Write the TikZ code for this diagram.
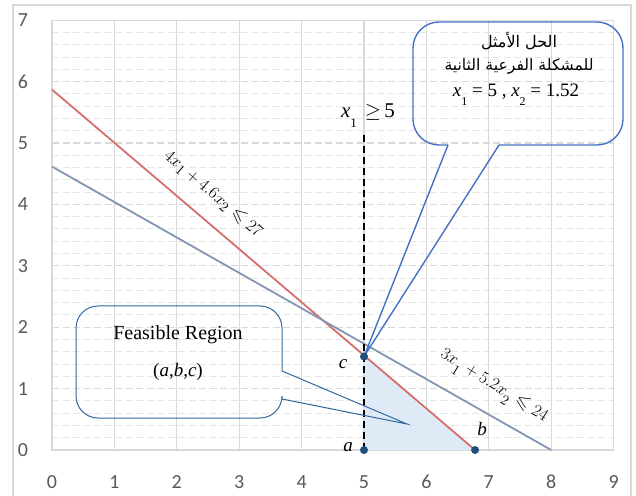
\documentclass[tikz,border=0pt]{standalone}
\usepackage{amssymb}
\usepackage{fontspec}
\setmainfont{Liberation Serif}
\newfontfamily\tickfont{Carlito}
\newfontfamily\arabicfont[Script=Arabic]{DejaVu Sans}
\TeXXeTstate=1
\definecolor{gridmajor}{RGB}{217,217,217}
\definecolor{gridminor}{RGB}{230,230,230}
\definecolor{framegray}{RGB}{217,217,217}
\definecolor{ticktext}{RGB}{89,89,89}
\definecolor{redline}{RGB}{214,110,110}
\definecolor{grayline}{RGB}{132,151,176}
\definecolor{feasfill}{RGB}{222,235,247}
\definecolor{dotblue}{RGB}{31,78,121}
\definecolor{callblue}{RGB}{68,114,196}
\definecolor{calldark}{RGB}{52,105,160}
\tikzset{
  minorgrid/.style={gridminor, line width=1pt, dash pattern=on 7pt off 3.5pt},
  majorgrid/.style={gridmajor, line width=1.2pt, dash pattern=on 7pt off 3.5pt},
  vgrid/.style={gridmajor, line width=1.3pt},
  ticklab/.style={font=\tickfont\fontsize{20}{20}\selectfont, text=ticktext, inner sep=0pt},
  ptlab/.style={font=\fontsize{19}{19}\selectfont\itshape, inner sep=0pt},
  ptdot/.style={circle, fill=dotblue, inner sep=0pt, minimum size=8pt},
  eqlab/.style={font=\fontsize{19}{19}\selectfont, inner sep=0pt},
}
\begin{document}
\begin{tikzpicture}[x=62.4pt,y=61.4pt]
\useasboundingbox (-52pt,-45pt) rectangle (584pt,450pt);
\fill[white] (-52pt,-45pt) rectangle (584pt,450pt);
% outer chart frame
\draw[framegray, line width=1.2pt] (-39pt,-60pt) -- (-39pt,445pt) -- (579pt,445pt) -- (579pt,-60pt);
% grid
\foreach \k in {1,...,35}{\draw[minorgrid] (0,\k*0.2) -- (9,\k*0.2);}
\foreach \k in {1,...,6}{\draw[majorgrid] (0,\k) -- (9,\k);}
\foreach \k in {1,...,8}{\draw[vgrid] (\k,0) -- (\k,7);}
\draw[vgrid] (0,0) rectangle (9,7);
% tick labels
\foreach \k in {0,...,9}{\node[ticklab] (xt\k) at ([yshift=-32pt]\k,0) {\k};}
\foreach \k in {0,...,7}{\node[ticklab] (yt\k) at ([xshift=-29pt]0,\k) {\k};}
% key points
\coordinate (a) at (5,0);
\coordinate (b) at (6.78,0);
\coordinate (c) at (5,1.5217);
\coordinate (dtop) at (5,5.13);
% feasible region
\fill[feasfill] (a) -- (b) -- (c) -- cycle;
% constraint lines
\coordinate (r0) at (0,5.8696);
\coordinate (g0) at (0,4.6154);
\coordinate (g1) at (8,0);
\draw[redline, line width=1.8pt] (r0) -- (b);
\draw[grayline, line width=1.8pt] (g0) -- (g1);
% dashed x1>=5
\draw[black, line width=2pt, dash pattern=on 7pt off 4pt] (a) -- (dtop);
% callout 1 (top right)
\draw[callblue, line width=1.4pt, rounded corners=26pt]
  (396pt,305pt) -- (361pt,305pt) -- (361pt,428pt) -- (571pt,428pt) -- (571pt,305pt) -- (447pt,305pt);
\draw[callblue, line width=1.4pt] (447pt,305pt) -- (c) -- (396pt,305pt);
% callout 2 (feasible region)
\draw[calldark, line width=1pt, rounded corners=22pt]
  (230pt,79pt) -- (230pt,144pt) -- (24pt,144pt) -- (24pt,32pt) -- (230pt,32pt) -- (230pt,51pt);
\draw[calldark, line width=1pt] (230pt,79pt) -- (355pt,26pt) -- (230pt,51pt);
% dots
\node[ptdot] (da) at (a) {};
\node[ptdot] (db) at (b) {};
\node[ptdot] (dc) at (c) {};
% point labels
\node[ptlab] (la) at (296pt,3pt) {a};
\node[ptlab] (lb) at (430pt,21pt) {b};
\node[ptlab] (lc) at (291pt,86pt) {c};
% x1 >= 5 label
\node[font=\fontsize{21}{21}\selectfont, inner sep=0pt] (lx) at (316pt,334pt)
  {{\itshape x}\raisebox{-10pt}{\fontsize{13}{13}\selectfont 1}\hspace{8pt}$\geq$\,5};
% constraint labels
\node[eqlab, rotate=-40.5] (l1) at (161pt,256pt) {$4x_1 + 4.6x_2 \leqslant 27$};
\node[eqlab, rotate=-32] (l2) at (441pt,63pt) {$3x_{\raisebox{-5pt}{$\scriptstyle 1$}} + 5.2x_{\raisebox{-5pt}{$\scriptstyle 2$}} \leqslant 24$};
% callout 1 text
\node[font=\arabicfont, inner sep=0pt] (t1) at (467pt,409pt) {\resizebox{76pt}{!}{\beginR الحل الأمثل\endR}};
\node[font=\arabicfont, inner sep=0pt] (t2) at (467pt,384pt) {\resizebox{149pt}{!}{\beginR للمشكلة الفرعية الثانية\endR}};
\node[font=\fontsize{19}{19}\selectfont, inner sep=0pt] (t3) at (464pt,355pt)
  {{\itshape x}\raisebox{-9pt}{\fontsize{12}{12}\selectfont 1} = 5 , {\itshape x}\raisebox{-9pt}{\fontsize{12}{12}\selectfont 2} = 1.52};
% callout 2 text
\node[font=\fontsize{20}{20}\selectfont, inner sep=0pt] (f1) at (126pt,115pt) {Feasible Region};
\node[font=\fontsize{19}{19}\selectfont, inner sep=0pt] (f2) at (126pt,78pt) {(\textit{a},\textit{b},\textit{c})};
\end{tikzpicture}
\end{document}
